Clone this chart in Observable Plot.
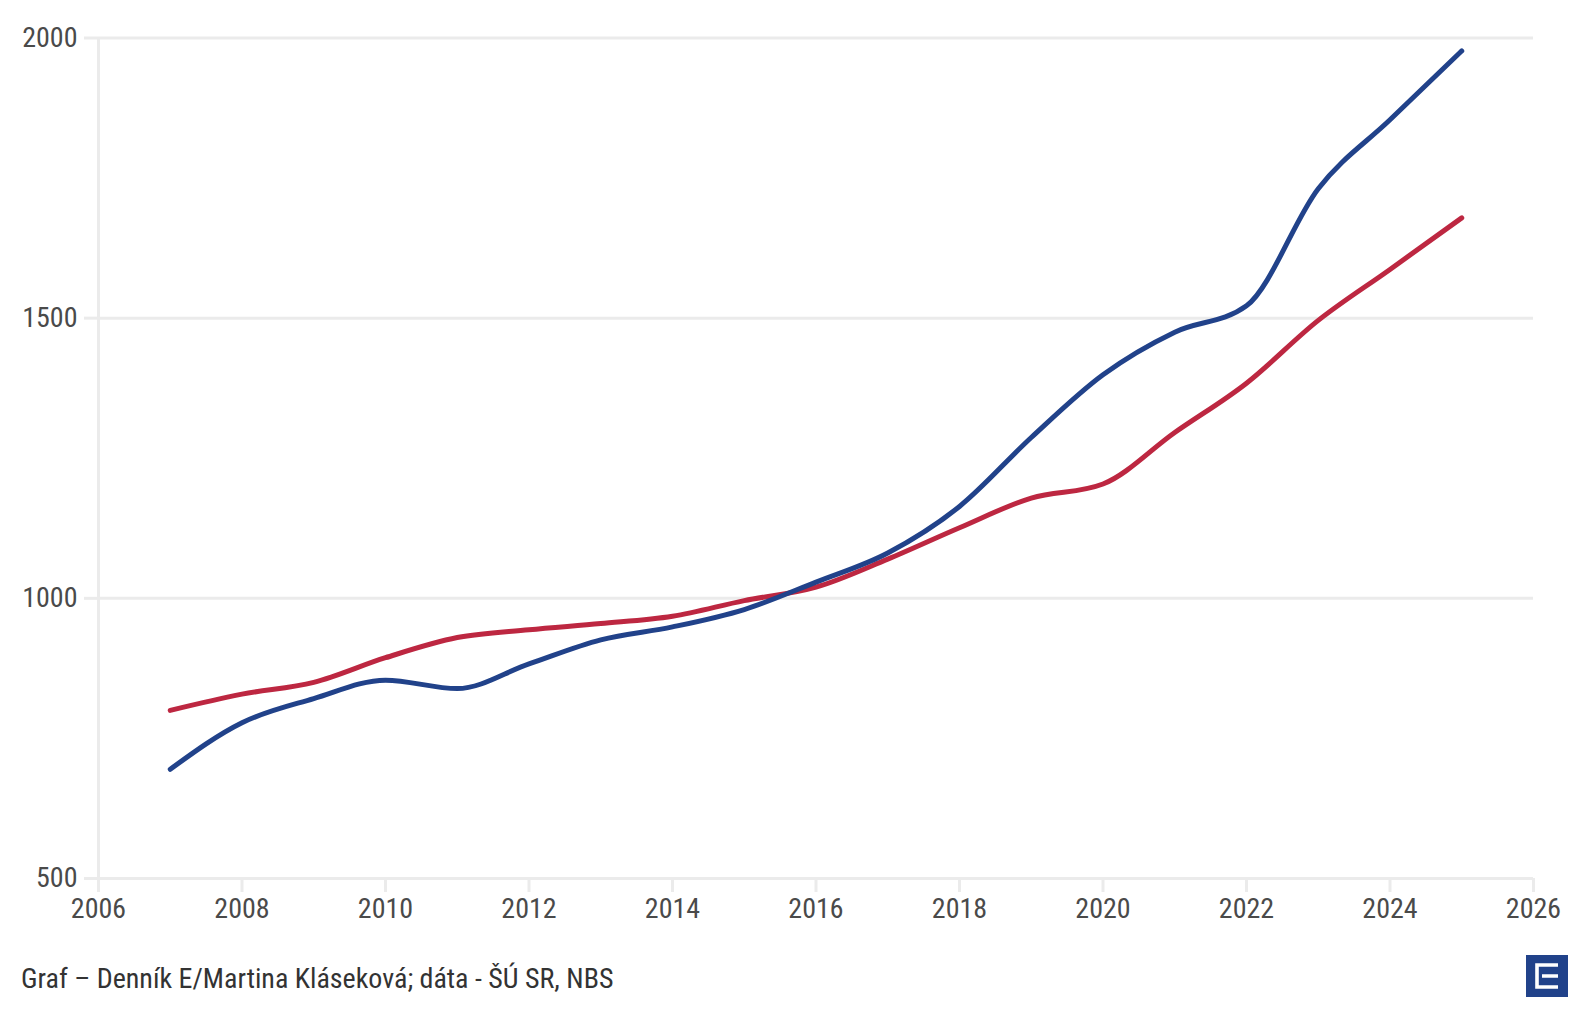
<!DOCTYPE html>
<html>
<head>
<meta charset="utf-8">
<script src="https://cdn.jsdelivr.net/npm/d3@7"></script>
<script src="https://cdn.jsdelivr.net/npm/@observablehq/plot@0.6"></script>
<style>
  html, body { margin: 0; padding: 0; background: #fff; }
  body { width: 1585px; height: 1022px; position: relative; overflow: hidden;
         font-family: "Roboto Condensed", "Liberation Sans Narrow", Roboto, sans-serif; }
  #chart { position: absolute; left: 0; top: 0; }
  #caption { position: absolute; left: 21px; top: 962px; font-size: 28px; color: #333; line-height: 34px; }
  #logo { position: absolute; left: 1526px; top: 955px; width: 42px; height: 42px; }
</style>
</head>
<body>
<div id="chart"></div>
<div id="caption">Graf – Denník E/Martina Kláseková; dáta - ŠÚ SR, NBS</div>
<svg id="logo" viewBox="0 0 42 42" xmlns="http://www.w3.org/2000/svg">
  <rect width="42" height="42" fill="#21428a"/>
  <path d="M32 10 H11 V32 H32 M16 21 H32" fill="none" stroke="#fff" stroke-width="3.6"/>
</svg>
<script>
const years = [2007,2008,2009,2010,2011,2012,2013,2014,2015,2016,2017,2018,2019,2020,2021,2022,2023,2024,2025];
const blueValues = [695,778,821,854,839,883,926,949,980,1029,1081,1164,1287,1399,1475,1522,1731,1854,1977];
const redValues  = [800,829,850,894,930,944,955,968,996,1020,1070,1126,1179,1204,1296,1384,1496,1587,1679];
const yTicks = [500,1000,1500,2000];
const xTicks = [2006,2008,2010,2012,2014,2016,2018,2020,2022,2024,2026];

const blue = years.map((y,i) => ({year: y, value: blueValues[i]}));
const red  = years.map((y,i) => ({year: y, value: redValues[i]}));

const gridColor = "#ebebeb";
const font = '"Roboto Condensed", "Liberation Sans Narrow", Roboto, sans-serif';

const chart = Plot.plot({
  width: 1585,
  height: 935,
  marginLeft: 98,
  marginRight: 52,
  marginTop: 37.5,
  marginBottom: 57,
  style: { fontFamily: font, fontSize: "28px", color: "#4a4a4a", background: "white" },
  x: { domain: [2006, 2026] },
  y: { domain: [500, 2000] },
  marks: [
    Plot.gridY(yTicks, { stroke: gridColor, strokeOpacity: 1, strokeWidth: 3 }),
    Plot.ruleX([2006], { y1: 500, y2: 2000, stroke: gridColor, strokeWidth: 3 }),
    Plot.axisY(yTicks, { tickSize: 14, tickPadding: 7, stroke: gridColor, strokeOpacity: 1, strokeWidth: 3,
      fill: "#4a4a4a", tickFormat: d => String(d), label: null, fontSize: 28 }),
    Plot.axisX(xTicks, { tickSize: 14, tickPadding: 6, stroke: gridColor, strokeOpacity: 1, strokeWidth: 3,
      fill: "#4a4a4a", tickFormat: d => String(d), label: null, fontSize: 28 }),
    Plot.lineY(red, { x: "year", y: "value", stroke: "#bd2741", strokeWidth: 5, curve: "monotone-x" }),
    Plot.lineY(blue, { x: "year", y: "value", stroke: "#21428a", strokeWidth: 5, curve: "monotone-x" })
  ]
});
document.getElementById("chart").appendChild(chart);
</script>
</body>
</html>
